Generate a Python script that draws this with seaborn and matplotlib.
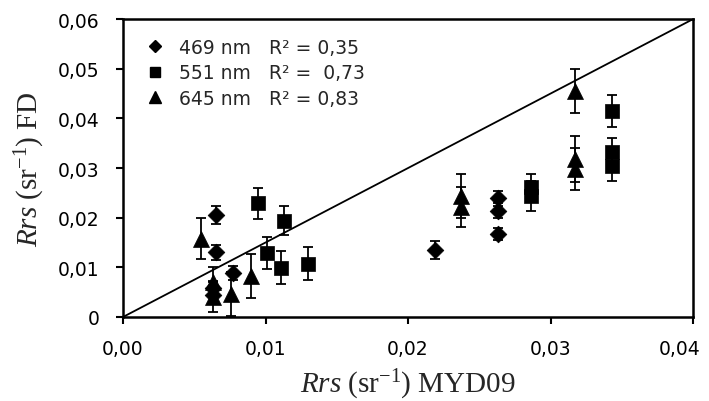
import numpy as np
import pandas as pd
import matplotlib
matplotlib.use('Agg')
import matplotlib.pyplot as plt
import matplotlib.transforms as mtransforms
import seaborn as sns
from matplotlib.lines import Line2D

# 469 nm (diamonds)
x_469 = [0.0065, 0.0065, 0.0063, 0.0063, 0.0077, 0.0219, 0.0263, 0.0263, 0.0263]
y_469 = [0.0205, 0.0130, 0.0058, 0.0045, 0.0089, 0.0135, 0.0239, 0.0214, 0.0167]
e_469 = [0.0018, 0.0015, 0.0015, 0.0015, 0.0014, 0.0019, 0.0015, 0.0015, 0.0012]

# 551 nm (squares)
x_551 = [0.0095, 0.0113, 0.0101, 0.0111, 0.0130, 0.0286, 0.0286, 0.0343, 0.0343, 0.0343]
y_551 = [0.0229, 0.0194, 0.0129, 0.0099, 0.0107, 0.0262, 0.0244, 0.0415, 0.0332, 0.0304]
e_551 = [0.0031, 0.0029, 0.0033, 0.0033, 0.0033, 0.0027, 0.0030, 0.0032, 0.0028, 0.0030]

# 645 nm (triangles)
x_645 = [0.0055, 0.0063, 0.0063, 0.0076, 0.0090, 0.0237, 0.0237, 0.0317, 0.0317, 0.0317]
y_645 = [0.0158, 0.0070, 0.0040, 0.0046, 0.0082, 0.0244, 0.0221, 0.0455, 0.0318, 0.0298]
e_645 = [0.0042, 0.0030, 0.0030, 0.0045, 0.0044, 0.0045, 0.0040, 0.0045, 0.0046, 0.0042]

bands = ['469 nm', '551 nm', '645 nm']
r2_labels = ['469 nm   R\u00b2 = 0,35', '551 nm   R\u00b2 =  0,73', '645 nm   R\u00b2 = 0,83']

# reference line
line_x = [0.0, 0.04]
line_y = [0.0, 0.06]

x_ticks = [0.0, 0.01, 0.02, 0.03, 0.04]
x_tick_labels = ['0,00', '0,01', '0,02', '0,03', '0,04']
y_ticks = [0.0, 0.01, 0.02, 0.03, 0.04, 0.05, 0.06]
y_tick_labels = ['0', '0,01', '0,02', '0,03', '0,04', '0,05', '0,06']

df = pd.concat([
    pd.DataFrame({'x': x_469, 'y': y_469, 'err': e_469, 'band': bands[0]}),
    pd.DataFrame({'x': x_551, 'y': y_551, 'err': e_551, 'band': bands[1]}),
    pd.DataFrame({'x': x_645, 'y': y_645, 'err': e_645, 'band': bands[2]}),
], ignore_index=True)

sns.set_style('white')
plt.rcParams['font.family'] = ['DejaVu Sans']
plt.rcParams['mathtext.fontset'] = 'custom'
plt.rcParams['mathtext.rm'] = 'Liberation Serif'
plt.rcParams['mathtext.it'] = 'Liberation Serif:italic'

markers = {'469 nm': 'D', '551 nm': 's', '645 nm': '^'}
sizes_pt = {'469 nm': 8.5, '551 nm': 10.5, '645 nm': 11.5}

fig = plt.figure(figsize=(7.09, 4.02), dpi=100)
ax = fig.add_axes([0.1735, 0.209, 0.804, 0.741])

# reference line
sns.lineplot(x=line_x, y=line_y, color='black', linewidth=1.3, ax=ax)

# error bars
ax.errorbar(df['x'], df['y'], yerr=df['err'], fmt='none', ecolor='black',
            elinewidth=1.3, capsize=3.8, capthick=1.3, zorder=2)

# markers
for b in bands:
    sub = df[df['band'] == b]
    sns.scatterplot(data=sub, x='x', y='y', marker=markers[b], color='black',
                    edgecolor='black', s=sizes_pt[b] ** 2, linewidth=0.5,
                    ax=ax, zorder=3, legend=False)

ax.set_xlim(0, 0.04)
ax.set_ylim(0, 0.06)
ax.set_xticks(x_ticks)
ax.set_xticklabels(x_tick_labels)
ax.set_yticks(y_ticks)
ax.set_yticklabels(y_tick_labels)
ax.tick_params(axis='both', direction='out', length=5, width=1.5, labelsize=13.5,
               colors='black', left=True, bottom=True)
ax.tick_params(axis='x', pad=11)
ax.tick_params(axis='y', pad=12)
for sp in ax.spines.values():
    sp.set_visible(True)
    sp.set_color('black')
    sp.set_linewidth(1.8)

# keep the last x tick label inside the figure, as in the original
last = ax.get_xticklabels()[-1]
last.set_transform(last.get_transform() +
                   mtransforms.ScaledTranslation(-13 / 100, 0, fig.dpi_scale_trans))

ax.set_xlabel(r'$\mathit{Rrs}\ \mathrm{(sr^{-1})\ MYD09}$', fontsize=21, labelpad=6)
ax.set_ylabel(r'$\mathit{Rrs}\ \mathrm{(sr^{-1})\ FD}$', fontsize=21, labelpad=8)

handles = [Line2D([], [], marker=markers[b], color='black', linestyle='none',
                  markersize=sizes_pt[b] * 0.75) for b in bands]
ax.legend(handles, r2_labels, loc='upper left', bbox_to_anchor=(0.02, 0.975),
          frameon=False, fontsize=13.5, handlelength=1.0, handletextpad=0.8,
          labelspacing=0.35, borderaxespad=0.2)

fig.savefig('out.png', dpi=100)
